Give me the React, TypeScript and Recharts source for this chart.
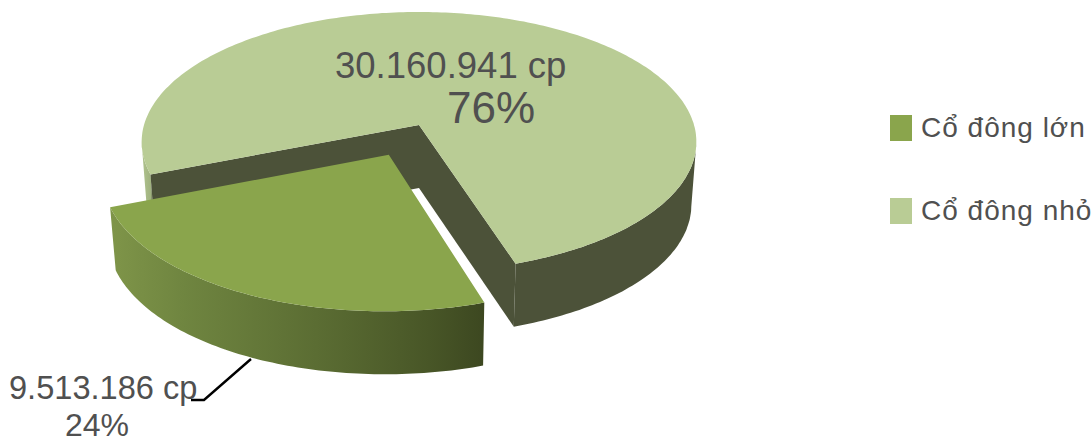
import { PieChart, Pie, Legend } from "recharts";

const names = ["Cổ đông nhỏ", "Cổ đông lớn"];
const shares = [30160941, 9513186];
const topColors = ["#b9cc95", "#8aa54c"];
const explode = [0, 0.25];

const rows = names.map((name, i) => ({
  name,
  value: shares[i],
  fill: topColors[i],
  explode: explode[i],
}));

const TILT_Y = 127.7;
const PERSPECTIVE = 0.13;
const DEPTH = 63;
const BASE_SHRINK = 0.982;
const WALL = "#4c5239";
const TEXT = "#505050";
const FONT = "'Liberation Sans', Arial, sans-serif";

type Pt = [number, number];

// tilted disc: disc coords (u, t) go through a simple perspective divide
function project(cx: number, cy: number, r: number, u: number, t: number): Pt {
  const w = 1 + PERSPECTIVE * t;
  return [cx + (r * u) / w, cy - (TILT_Y * t) / w];
}

const toPath = (pts: Pt[]) =>
  "M" + pts.map(([x, y]) => `${x.toFixed(1)},${y.toFixed(1)}`).join("L") + "Z";

function Slice3D(props: any) {
  const { cx, cy, outerRadius, startAngle, endAngle, fill, explode: off = 0 } = props;
  const mid = (((startAngle + endAngle) / 2) * Math.PI) / 180;
  const ox = off * Math.cos(mid);
  const oy = off * Math.sin(mid);
  const at = (deg: number) => {
    const a = (deg * Math.PI) / 180;
    return project(cx, cy, outerRadius, Math.cos(a) + ox, Math.sin(a) + oy);
  };
  // the base of the slab sits a little narrower than its top face
  const drop = (pts: Pt[]): Pt[] =>
    pts.map(([x, y]) => [cx + (x - cx) * BASE_SHRINK, y + DEPTH]);

  const arc: Pt[] = [];
  const rimRuns: Pt[][] = [];
  let run: Pt[] = [];
  const steps = Math.ceil(Math.abs(endAngle - startAngle));
  for (let i = 0; i <= steps; i++) {
    const deg = startAngle + ((endAngle - startAngle) * i) / steps;
    const p = at(deg);
    arc.push(p);
    // only the part of the rim that faces the viewer gets a wall
    if (Math.sin((deg * Math.PI) / 180) < -PERSPECTIVE) {
      run.push(p);
    } else if (run.length) {
      rimRuns.push(run);
      run = [];
    }
  }
  if (run.length) rimRuns.push(run);

  const apex = project(cx, cy, outerRadius, ox, oy);
  const rims = rimRuns.map((pts) => [...pts, ...drop(pts).reverse()]);
  const top = <path d={toPath([apex, ...arc])} fill={fill} />;

  if (off > 0) {
    return (
      <g>
        {rims.map((pts, i) => (
          <path key={i} d={toPath(pts)} fill="url(#rimLarge)" />
        ))}
        {top}
      </g>
    );
  }

  const first = arc[0];
  const last = arc[arc.length - 1];
  return (
    <g>
      {rims.map((pts, i) => (
        <path key={i} d={toPath(pts)} fill="url(#rimSmall)" />
      ))}
      <path d={toPath([apex, first, ...drop([first, apex])])} fill={WALL} />
      <path d={toPath([apex, last, ...drop([last, apex])])} fill={WALL} />
      {top}
    </g>
  );
}

function SliceLabel(props: any) {
  const { value, percent, index } = props;
  const amount = `${value.toLocaleString("de-DE")} cp`;
  const pct = `${Math.round(percent * 100)}%`;
  if (index === 0) {
    return (
      <g fontFamily={FONT} fill={TEXT}>
        <text x={335} y={78} fontSize={36.5}>{amount}</text>
        <text x={447} y={123} fontSize={44}>{pct}</text>
      </g>
    );
  }
  return (
    <g fontFamily={FONT} fill={TEXT}>
      <path d="M191,400H204L251,359" fill="none" stroke="#000" strokeWidth={2.4} />
      <text x={9} y={399} fontSize={32.6}>{amount}</text>
      <text x={65} y={436} fontSize={32}>{pct}</text>
    </g>
  );
}

function ShareLegend({ payload }: any) {
  return (
    <div style={{ fontFamily: FONT, fontSize: 28, letterSpacing: 1, color: TEXT }}>
      {(payload ?? []).map((item: any, i: number) => (
        <div
          key={item.value}
          style={{ position: "absolute", left: 0, top: i * 83, height: 26, whiteSpace: "nowrap" }}
        >
          <span
            style={{
              position: "absolute",
              left: 0,
              top: 0,
              width: 22,
              height: 26,
              background: item.color,
            }}
          />
          <span style={{ position: "absolute", left: 31, top: -6, lineHeight: "38px" }}>
            {item.value}
          </span>
        </div>
      ))}
    </div>
  );
}

export default function App() {
  return (
    <div style={{ position: "absolute", left: 0, top: 0, width: 1092, height: 438, background: "#fff" }}>
      <PieChart width={1092} height={438} margin={{ top: 0, right: 0, bottom: 0, left: 0 }}>
        <defs>
          <linearGradient id="rimSmall" gradientUnits="userSpaceOnUse" x1={142} x2={697} y1={0} y2={0}>
            <stop offset={0} stopColor="#b0c38e" />
            <stop offset={0.016} stopColor="#a0b27f" />
            <stop offset={0.02} stopColor={WALL} />
            <stop offset={1} stopColor={WALL} />
          </linearGradient>
          <linearGradient id="rimLarge" gradientUnits="userSpaceOnUse" x1={109} x2={486} y1={0} y2={0}>
            <stop offset={0} stopColor="#7f9549" />
            <stop offset={0.2} stopColor="#6f8540" />
            <stop offset={0.55} stopColor="#5b6d33" />
            <stop offset={0.85} stopColor="#485627" />
            <stop offset={1} stopColor="#3c4720" />
          </linearGradient>
        </defs>
        <Pie
          data={rows}
          dataKey="value"
          nameKey="name"
          cx={419}
          cy={125}
          outerRadius={275}
          startAngle={-158.4}
          endAngle={-518.4}
          stroke="none"
          shape={Slice3D}
          label={SliceLabel}
          labelLine={false}
          isAnimationActive={false}
        />
        <Legend
          content={ShareLegend}
          wrapperStyle={{ position: "absolute", left: 890, top: 115, width: 202, height: 120 }}
        />
      </PieChart>
    </div>
  );
}
